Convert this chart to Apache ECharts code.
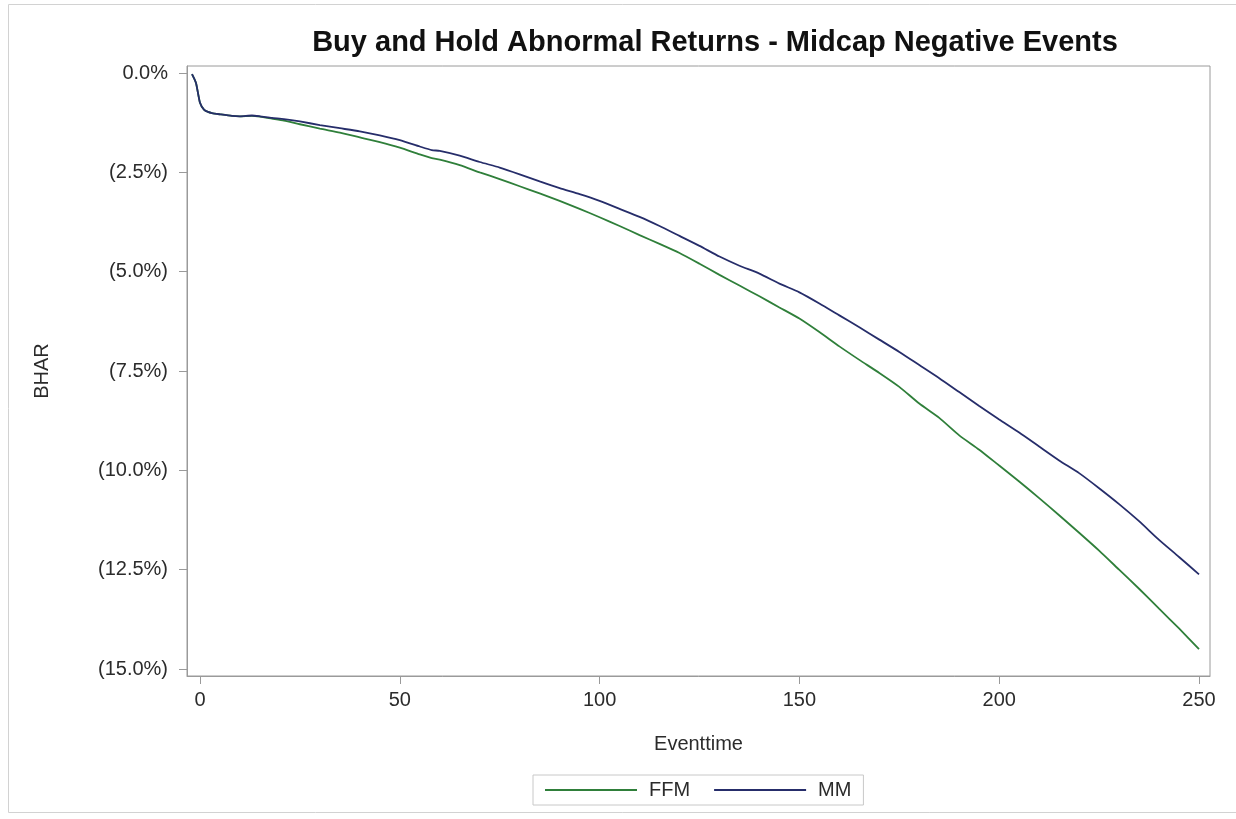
<!DOCTYPE html>
<html>
<head>
<meta charset="utf-8">
<title>Buy and Hold Abnormal Returns - Midcap Negative Events</title>
<script src="https://cdn.jsdelivr.net/npm/echarts@6/dist/echarts.min.js"></script>
<style>
  html, body { margin: 0; padding: 0; background: #fff; }
  #chart { width: 1236px; height: 819px; }
</style>
</head>
<body>
<div id="chart"></div>
<script>
// Event time (days relative to the event)
const eventtime = [-2, -1, 0, 1, 2, 3, 5, 8, 10, 13, 15, 18, 21, 25, 30, 35, 40, 45, 50, 55, 58, 60,
  65, 70, 75, 80, 85, 90, 95, 100, 105, 110, 115, 120, 125, 130, 135, 140, 145, 150, 155, 160,
  165, 170, 175, 180, 185, 190, 195, 200, 205, 210, 215, 220, 225, 230, 235, 240, 245, 250];

// Cumulative BHAR in percent, Fama-French model
const ffm = [-0.03, -0.25, -0.75, -0.92, -0.98, -1.01, -1.04, -1.08, -1.09, -1.08, -1.10, -1.15, -1.20, -1.29, -1.40, -1.50, -1.62, -1.74, -1.88, -2.05, -2.14, -2.18,
  -2.32, -2.50, -2.67, -2.85, -3.03, -3.22, -3.42, -3.63, -3.85, -4.08, -4.30, -4.53, -4.80, -5.08, -5.35, -5.62, -5.90, -6.18, -6.52, -6.88,
  -7.22, -7.55, -7.90, -8.32, -8.68, -9.12, -9.48, -9.88, -10.28, -10.70, -11.13, -11.57, -12.02, -12.50, -12.98, -13.48, -13.98, -14.50];

// Cumulative BHAR in percent, market model
const mm = [-0.03, -0.25, -0.75, -0.92, -0.98, -1.01, -1.04, -1.08, -1.09, -1.07, -1.09, -1.13, -1.16, -1.22, -1.31, -1.39, -1.47, -1.57, -1.69, -1.85, -1.94, -1.96,
  -2.08, -2.24, -2.38, -2.55, -2.73, -2.90, -3.05, -3.22, -3.42, -3.62, -3.85, -4.10, -4.35, -4.62, -4.85, -5.05, -5.30, -5.52, -5.80, -6.10,
  -6.40, -6.71, -7.02, -7.35, -7.68, -8.03, -8.38, -8.72, -9.05, -9.40, -9.75, -10.07, -10.45, -10.85, -11.28, -11.75, -12.18, -12.62];

const xTicks = [0, 50, 100, 150, 200, 250];
const yTicks = [0, -2.5, -5, -7.5, -10, -12.5, -15];

const FONT = '"Liberation Sans", Arial, sans-serif';
const AXIS_GREY = '#9a9a9a';
const TEXT = '#2b2b2b';

function pct(v) {
  if (Math.abs(v) < 1e-9) return '0.0%';
  return '(' + Math.abs(v).toFixed(1) + '%)';
}

const chart = echarts.init(document.getElementById('chart'), null, { renderer: 'canvas' });

chart.setOption({
  backgroundColor: '#ffffff',
  animation: false,
  title: {
    text: 'Buy and Hold Abnormal Returns - Midcap Negative Events',
    left: 710,
    top: 23,
    textAlign: 'center',
    textStyle: { fontFamily: FONT, fontSize: 29, fontWeight: 'bold', color: '#111' }
  },
  graphic: [{
    type: 'rect',
    shape: { x: 8.5, y: 4.5, width: 1240, height: 808 },
    style: { fill: 'none', stroke: '#d2d2d2', lineWidth: 1 },
    silent: true
  }],
  legend: {
    data: ['FFM', 'MM'],
    left: 533,
    top: 775,
    orient: 'horizontal',
    icon: 'rect',
    itemWidth: 92,
    itemHeight: 2,
    itemGap: 24,
    padding: [5, 12, 5, 12],
    borderColor: '#c8c8c8',
    borderWidth: 1,
    textStyle: { fontFamily: FONT, fontSize: 20, color: TEXT, padding: [0, 0, 0, 7] }
  },
  grid: {
    left: 187,
    top: 66,
    right: 26,
    bottom: 143,
    show: true,
    borderColor: AXIS_GREY,
    borderWidth: 1,
    containLabel: false
  },
  xAxis: {
    type: 'value',
    min: -3.25,
    max: 252.75,
    name: 'Eventtime',
    nameLocation: 'middle',
    nameGap: 58,
    nameTextStyle: { fontFamily: FONT, fontSize: 20, color: TEXT },
    axisLine: { show: true, onZero: false, lineStyle: { color: AXIS_GREY } },
    axisTick: { show: true, inside: false, length: 8, customValues: xTicks, lineStyle: { color: AXIS_GREY } },
    axisLabel: { customValues: xTicks, margin: 14, fontFamily: FONT, fontSize: 20, color: TEXT },
    splitLine: { show: false }
  },
  yAxis: {
    type: 'value',
    min: -15.176,
    max: 0.176,
    name: 'BHAR',
    nameLocation: 'middle',
    nameGap: 135,
    nameRotate: 90,
    nameTextStyle: { fontFamily: FONT, fontSize: 20, color: TEXT },
    axisLine: { show: true, onZero: false, lineStyle: { color: AXIS_GREY } },
    axisTick: { show: true, inside: false, length: 8, customValues: yTicks, lineStyle: { color: AXIS_GREY } },
    axisLabel: { customValues: yTicks, margin: 19, fontFamily: FONT, fontSize: 20, color: TEXT, formatter: pct },
    splitLine: { show: false }
  },
  series: [
    {
      name: 'FFM',
      type: 'line',
      data: eventtime.map((t, i) => [t, ffm[i]]),
      showSymbol: false,
      symbol: 'none',
      smooth: 0.2,
      lineStyle: { color: '#2f7f3a', width: 1.8 },
      itemStyle: { color: '#2f7f3a' },
      z: 2
    },
    {
      name: 'MM',
      type: 'line',
      data: eventtime.map((t, i) => [t, mm[i]]),
      showSymbol: false,
      symbol: 'none',
      smooth: 0.2,
      lineStyle: { color: '#262d6a', width: 1.8 },
      itemStyle: { color: '#262d6a' },
      z: 3
    }
  ]
});
</script>
</body>
</html>
